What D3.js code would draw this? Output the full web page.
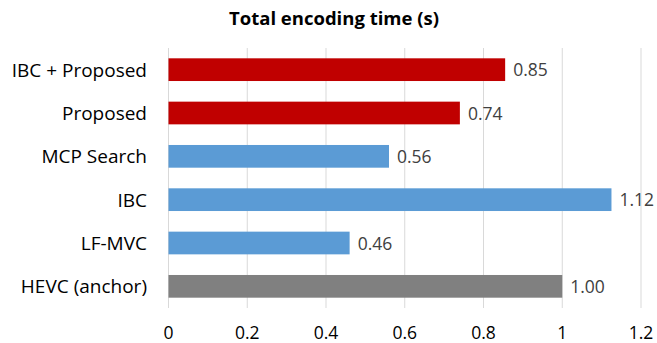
<!DOCTYPE html>
<html><head><meta charset="utf-8">
<script src="https://cdn.jsdelivr.net/npm/d3@7"></script>
<style>body{margin:0;background:#fff;} svg{display:block;}</style>
</head><body>
<script>
const categories = ["IBC + Proposed","Proposed","MCP Search","IBC","LF-MVC","HEVC (anchor)"];
const values = [0.855, 0.74, 0.56, 1.125, 0.46, 1.00];
const valueLabels = ["0.85","0.74","0.56","1.12","0.46","1.00"];
const barColors = ["#C00000","#C00000","#5B9BD5","#5B9BD5","#5B9BD5","#808080"];
const ticks = [0,0.2,0.4,0.6,0.8,1,1.2];
const title = "Total encoding time (s)";

const W=657,H=343;
const svg=d3.select("body").append("svg").attr("width",W).attr("height",H);
const font="'Open Sans', sans-serif";
const x=d3.scaleLinear().domain([0,1.2]).range([168.5,641]);
const y=d3.scaleBand().domain(categories).range([48,308]).paddingInner(0.476).paddingOuter(0.238);

svg.append("text").attr("x",334).attr("y",25).attr("text-anchor","middle")
  .attr("font-family",font).attr("font-weight","bold").attr("font-size",18.5).attr("fill","#000").text(title);

svg.append("g").selectAll("line").data(ticks).join("line")
  .attr("x1",d=>x(d)).attr("x2",d=>x(d)).attr("y1",48).attr("y2",308)
  .attr("stroke","#D9D9D9").attr("stroke-width",1);

svg.append("g").selectAll("rect").data(categories).join("rect")
  .attr("x",x(0)).attr("y",d=>y(d)).attr("height",y.bandwidth())
  .attr("width",(d,i)=>x(values[i])-x(0)).attr("fill",(d,i)=>barColors[i]);

svg.append("g").selectAll("text").data(categories).join("text")
  .attr("x",147).attr("y",d=>y(d)+y.bandwidth()/2).attr("dy","0.36em")
  .attr("text-anchor","end").attr("font-family",font).attr("font-size",19)
  .attr("fill","#000").text(d=>d);

svg.append("g").selectAll("text").data(categories).join("text")
  .attr("x",(d,i)=>x(values[i])+8).attr("y",d=>y(d)+y.bandwidth()/2).attr("dy","0.38em")
  .attr("font-family",font).attr("font-size",17.5).attr("fill","#404040").text((d,i)=>valueLabels[i]);

svg.append("g").selectAll("text").data(ticks).join("text")
  .attr("x",d=>x(d)).attr("y",339).attr("text-anchor","middle")
  .attr("font-family",font).attr("font-size",17.5).attr("fill","#000").text(d=>d3.format("")(d));
</script>
</body></html>
